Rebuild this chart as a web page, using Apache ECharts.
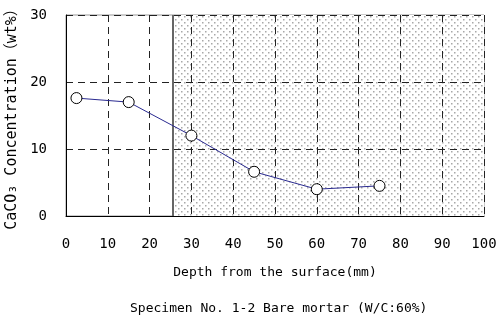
<!DOCTYPE html>
<html>
<head>
<meta charset="utf-8">
<script src="https://cdn.jsdelivr.net/npm/echarts@6/dist/echarts.min.js"></script>
<style>
  html, body { margin: 0; padding: 0; background: #fff; }
  #chart { width: 500px; height: 323px; }
</style>
</head>
<body>
<div id="chart"></div>
<script>
const depth = [2.5, 15, 30, 45, 60, 75]
const concentration = [17.6, 17.0, 12.0, 6.6, 4.0, 4.5]
const shadedFrom = 25.6
const xMax = 100
const yMax = 30

// dotted fill for the shaded zone
const tile = document.createElement('canvas')
tile.width = 6
tile.height = 6
const tc = tile.getContext('2d')
tc.fillStyle = '#fff'
tc.fillRect(0, 0, 6, 6)
tc.fillStyle = '#a8a8a8'
tc.fillRect(1, 1, 1.5, 1.5)
tc.fillRect(4, 4, 1.5, 1.5)

const font = '"DejaVu Sans Mono", "Noto Sans CJK JP", monospace'

const chart = echarts.init(document.getElementById('chart'))
const option = {
  animation: false,
  textStyle: { fontFamily: font },
  title: {
    text: 'Specimen No. 1-2 Bare mortar (W/C:60%)',
    left: 125,
    top: 297,
    textStyle: { fontSize: 13, fontWeight: 'normal', color: '#000', fontFamily: font }
  },
  grid: {
    left: 66, right: 16, top: 15, bottom: 107,
    outerBoundsMode: 'none',
    containLabel: false,
    show: true, borderColor: '#999', borderWidth: 1
  },
  xAxis: {
    type: 'value',
    min: 0, max: xMax, interval: 10,
    z: 3,
    name: 'Depth from the surface(mm)',
    nameLocation: 'middle',
    nameGap: 50,
    nameTextStyle: { fontSize: 13, color: '#000', fontFamily: font },
    axisLine: { show: true, lineStyle: { color: '#000', width: 1 } },
    axisTick: { show: false },
    axisLabel: { fontSize: 14, color: '#000', margin: 21, fontFamily: font },
    splitLine: { show: true, lineStyle: { color: '#222', type: [7, 5], width: 1 } }
  },
  yAxis: {
    type: 'value',
    min: 0, max: yMax, interval: 10,
    z: 3,
    name: 'CaCO₃ Concentration（wt%）',
    nameLocation: 'middle',
    nameGap: 39,
    nameTextStyle: { fontSize: 15, color: '#000', fontFamily: font },
    axisLine: { show: true, lineStyle: { color: '#000', width: 1 } },
    axisTick: { show: false },
    axisLabel: { fontSize: 14, color: '#000', margin: 19, fontFamily: font },
    splitLine: { show: true, lineStyle: { color: '#222', type: [7, 5], width: 1 } }
  },
  series: [
    {
      type: 'line',
      data: depth.map((d, i) => [d, concentration[i]]),
      symbol: 'circle',
      symbolSize: 11,
      lineStyle: { color: '#2a2a90', width: 1 },
      itemStyle: { color: '#fff', borderColor: '#000', borderWidth: 1 },
      z: 5,
      markArea: {
        silent: true,
        itemStyle: { color: { image: tile, repeat: 'repeat' } },
        data: [[{ xAxis: shadedFrom, yAxis: 0 }, { xAxis: xMax, yAxis: yMax }]]
      },
      markLine: {
        silent: true,
        symbol: 'none',
        label: { show: false },
        lineStyle: { color: '#666', width: 2, type: 'solid' },
        data: [{ xAxis: shadedFrom }]
      }
    }
  ]
}
option && chart.setOption(option)
</script>
</body>
</html>
